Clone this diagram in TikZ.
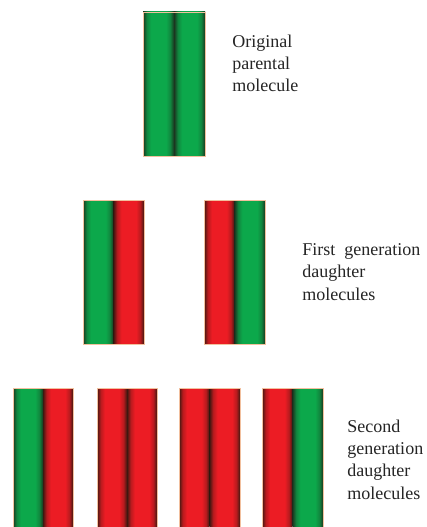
\documentclass[tikz,border=0pt]{standalone}
\usepackage{fontspec}
\setmainfont{Liberation Serif}
\newfontfamily\lblfont{Liberation Serif}
\definecolor{gdark}{HTML}{1B3620}
\definecolor{gbright}{HTML}{0CA84B}
\definecolor{rdark}{HTML}{3E1810}
\definecolor{rbright}{HTML}{EC1C24}
\definecolor{peach}{HTML}{F2C09E}
\definecolor{txt}{HTML}{252525}
\pgfdeclarehorizontalshading{gstrand}{100bp}{color(0bp)=(gdark); color(25bp)=(gdark); color(31bp)=(gbright!70!gdark); color(38bp)=(gbright); color(62bp)=(gbright); color(69bp)=(gbright!70!gdark); color(75bp)=(gdark); color(100bp)=(gdark)}
\pgfdeclarehorizontalshading{rstrand}{100bp}{color(0bp)=(rdark); color(25bp)=(rdark); color(31bp)=(rbright!70!rdark); color(38bp)=(rbright); color(62bp)=(rbright); color(69bp)=(rbright!70!rdark); color(75bp)=(rdark); color(100bp)=(rdark)}
\tikzset{
  G/.style={shading=gstrand},
  R/.style={shading=rstrand},
  outline/.style={draw=peach, line width=0.4pt},
  lbl/.style={anchor=north west, inner sep=0pt, align=left, text=txt,
    font=\lblfont\fontsize{13.5pt}{16.7pt}\selectfont},
}
% #1 x-left, #2 y-top, #3 y-bottom, #4 left style, #5 right style, #6 strand width
\newcommand{\dnamol}[6]{%
  \path[#4] (#1,#2) rectangle ({#1+#6},#3);
  \path[#5] ({#1+#6},#2) rectangle ({#1+2*#6},#3);
  \draw[outline] (#1,#2) rectangle ({#1+2*#6},#3);
}
\begin{document}
\begin{tikzpicture}[x=0.75pt,y=-0.75pt]
\useasboundingbox[fill=white] (0,0) rectangle (426,527);
% parent
\dnamol{143}{12}{156}{G}{G}{31}
% first generation
\dnamol{83}{200}{344}{G}{R}{30.5}
\dnamol{204}{200}{344}{R}{G}{30.5}
% second generation
\dnamol{13}{388}{530}{G}{R}{30}
\dnamol{97}{388}{530}{R}{R}{30}
\dnamol{179}{388}{530}{R}{R}{30.5}
\dnamol{262}{388}{530}{R}{G}{30.5}
% labels
\node[lbl] (orig) at (232,34.5) {Original\\parental\\molecule};
\node[lbl] (first) at (302,243.5) {First\ \ generation\\daughter\\molecules};
\node[lbl] (second) at (347,419.5) {Second\\generation\\daughter\\molecules};
\end{tikzpicture}
\end{document}
